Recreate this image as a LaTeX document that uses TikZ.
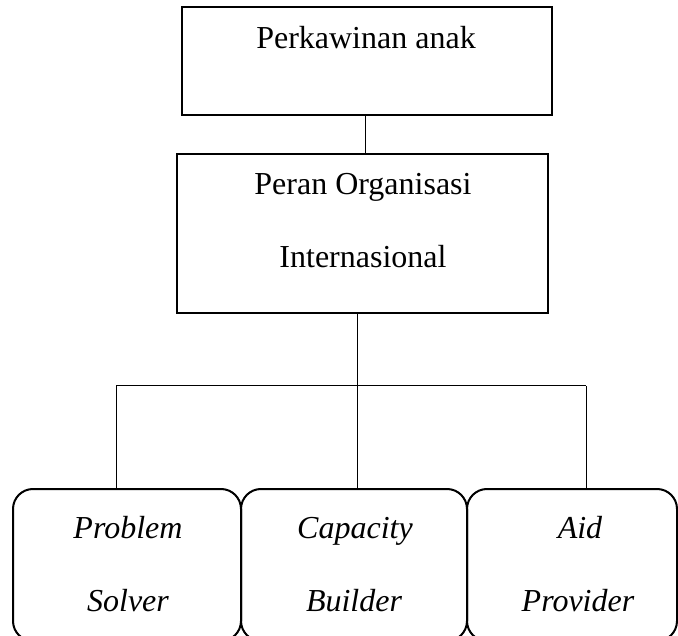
\documentclass[tikz,border=0pt]{standalone}
\usepackage{fontspec}
\setmainfont{Liberation Serif}
\begin{document}
\begin{tikzpicture}[x=1pt,y=-1pt,
  sqbox/.style={draw, line width=2pt, inner sep=0pt},
  rbox/.style={draw, line width=2pt, inner sep=0pt, rounded corners=20pt},
  txt/.style={anchor=base, inner sep=0pt, font=\fontsize{32}{38}\selectfont},
  itxt/.style={txt, font=\fontsize{32}{38}\selectfont\itshape},
  conn/.style={line width=1pt}]
\useasboundingbox (0,0) rectangle (678,636);
\clip (0,0) rectangle (678,636);
% boxes
\node[sqbox, minimum width=370pt, minimum height=108pt] (top) at (367,61) {};
\node[sqbox, minimum width=371pt, minimum height=159pt] (mid) at (362.5,233.5) {};
\node[rbox, minimum width=228pt, minimum height=152pt] (A) at (127,565) {};
\node[rbox, minimum width=226pt, minimum height=152pt] (B) at (354,565) {};
\node[rbox, minimum width=210pt, minimum height=152pt] (C) at (572,565) {};
% texts
\node[txt] (t1) at (366,49) {Perkawinan anak};
\node[txt] (t2) at (363,195) {Peran Organisasi};
\node[txt] (t3) at (363,268) {Internasional};
\node[itxt] (a1) at (128,538) {Problem};
\node[itxt] (a2) at (128,611) {Solver};
\node[itxt] (b1) at (355,538) {Capacity};
\node[itxt] (b2) at (354,611) {Builder};
\node[itxt] (c1) at (580,538) {Aid};
\node[itxt] (c2) at (578,611) {Provider};
% connectors
\coordinate (upx) at (365,0);
\coordinate (bus) at (357,386);
\coordinate (busL) at (116,386);
\coordinate (busR) at (586,386);
\draw[conn] (top.south -| upx) -- (mid.north -| upx);
\draw[conn] (mid.south -| bus) -- (bus);
\draw[conn] (busL) -- (busR);
\draw[conn] (busL) -- (busL |- A.north);
\draw[conn] (bus) -- (bus |- B.north);
\draw[conn] (busR) -- (busR |- C.north);
\end{tikzpicture}
\end{document}
